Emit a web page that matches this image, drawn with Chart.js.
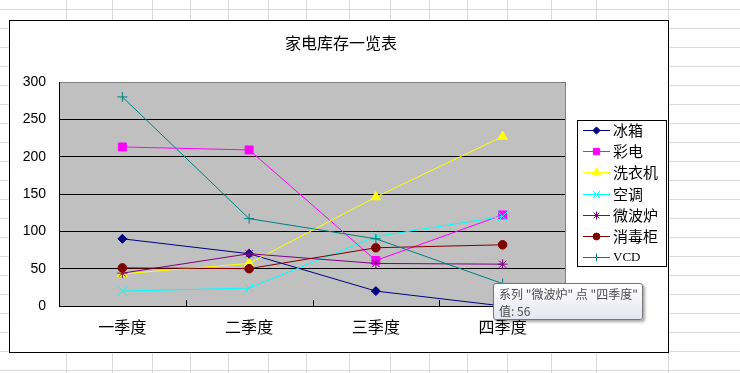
<!DOCTYPE html>
<html>
<head>
<meta charset="utf-8">
<script src="https://cdn.jsdelivr.net/npm/chart.js@4/dist/chart.umd.min.js"></script>
<style>
  html, body { margin: 0; padding: 0; background: #fff; }
  #wrap { position: relative; width: 740px; height: 373px; overflow: hidden; }
  #chart { position: absolute; left: 0; top: 0; }
  #tip {
    position: absolute; left: 493px; top: 283px; width: 150px; height: 37px;
    box-sizing: border-box; border: 1px solid #767676; border-radius: 3px;
    background: linear-gradient(#ffffff, #e4e5f0);
    box-shadow: 2px 2px 3px rgba(0, 0, 0, 0.35);
    font: 12px "Noto Sans CJK SC", sans-serif; color: #4c4c4c;
    padding: 1px 0 0 5px; line-height: 17px; white-space: nowrap;
  }
</style>
</head>
<body>
<div id="wrap">
  <canvas id="chart" width="740" height="373"></canvas>
  <div id="tip">系列 "微波炉" 点 "四季度"<br>值: 56</div>
</div>
<script>
const TITLE = "家电库存一览表";
const CATEGORIES = ["一季度", "二季度", "三季度", "四季度"];
const SERIES_NAMES = ["冰箱", "彩电", "洗衣机", "空调", "微波炉", "消毒柜", "VCD"];
const BINGXIANG = [90, 70, 20, 0];
const CAIDIAN = [213, 209, 61, 122];
const XIYIJI = [43, 57, 146, 227];
const KONGTIAO = [20, 24, 93, 120];
const WEIBOLU = [44, 70, 57, 56];
const XIAODUGUI = [51, 50, 78, 82];
const VCD = [280, 117, 90, 30];
const Y_MIN = 0;
const Y_MAX = 300;
const Y_STEP = 50;

const seriesValues = [BINGXIANG, CAIDIAN, XIYIJI, KONGTIAO, WEIBOLU, XIAODUGUI, VCD];
const looks = [
  { color: "#000080", style: "rectRot", radius: 4.5 },
  { color: "#ff00ff", style: "rect", radius: 5.6 },
  { color: "#ffff00", style: "triangle", radius: 5.5 },
  { color: "#00ffff", style: "crossRot", radius: 6.3 },
  { color: "#800080", style: "star", radius: 5 },
  { color: "#800000", style: "circle", radius: 4.3 },
  { color: "#008080", style: "cross", radius: 5 },
];

const datasets = SERIES_NAMES.map((name, i) => ({
  label: name,
  data: seriesValues[i],
  borderColor: looks[i].color,
  backgroundColor: looks[i].color,
  pointBackgroundColor: looks[i].color,
  pointBorderColor: looks[i].color,
  pointStyle: looks[i].style,
  pointRadius: looks[i].radius,
  pointBorderWidth: 1,
  borderWidth: 1,
  tension: 0,
  order: SERIES_NAMES.length - i,
}));

// sheet grid, chart frame, plot fill
const sheetPlugin = {
  id: "sheet",
  beforeDraw(chart) {
    const ctx = chart.ctx;
    const area = chart.chartArea;
    ctx.save();
    ctx.fillStyle = "#fff";
    ctx.fillRect(0, 0, chart.width, chart.height);
    ctx.strokeStyle = "#d9d9d9";
    ctx.lineWidth = 1;
    ctx.beginPath();
    for (let y = 9.5; y < chart.height; y += 19) {
      ctx.moveTo(0, y);
      ctx.lineTo(chart.width, y);
    }
    [66.5, 112.5, 152.5, 190.5, 228.5, 268.5, 306.5, 349.5, 390.5, 429.5, 467.5, 507.5, 551.5, 596.5, 668.5].forEach((x) => {
      ctx.moveTo(x, 0);
      ctx.lineTo(x, chart.height);
    });
    ctx.stroke();
    ctx.fillStyle = "#fff";
    ctx.fillRect(9.5, 20.5, 659, 332);
    ctx.strokeStyle = "#000";
    ctx.strokeRect(9.5, 20.5, 659, 332);

    ctx.fillStyle = "#000";
    ctx.font = '16px "Noto Sans CJK SC"';
    ctx.textAlign = "center";
    ctx.textBaseline = "middle";
    ctx.fillText(TITLE, 341, 43);

    ctx.fillStyle = "#c0c0c0";
    ctx.fillRect(area.left, area.top, area.right - area.left, area.bottom - area.top);
    ctx.restore();
  },
  beforeDatasetsDraw(chart) {
    const ctx = chart.ctx;
    const area = chart.chartArea;
    const xs = chart.scales.x;
    ctx.save();
    ctx.lineWidth = 1;
    ctx.strokeStyle = "#808080";
    ctx.beginPath();
    ctx.moveTo(Math.round(area.right) - 0.5, area.top);
    ctx.lineTo(Math.round(area.right) - 0.5, area.bottom);
    ctx.stroke();
    ctx.strokeStyle = "#000";
    ctx.beginPath();
    for (let i = 0; i < CATEGORIES.length - 1; i++) {
      const x = Math.round((xs.getPixelForValue(i) + xs.getPixelForValue(i + 1)) / 2) + 0.5;
      ctx.moveTo(x, area.bottom - 6);
      ctx.lineTo(x, area.bottom);
    }
    ctx.stroke();
    ctx.restore();
  },
};

const legendPlugin = {
  id: "boxLegend",
  afterDraw(chart) {
    const ctx = chart.ctx;
    ctx.save();
    ctx.fillStyle = "#fff";
    ctx.fillRect(577.5, 120.5, 89, 146);
    ctx.strokeStyle = "#000";
    ctx.lineWidth = 1;
    ctx.strokeRect(577.5, 120.5, 89, 146);
    chart.data.datasets.forEach((ds, i) => {
      const y = Math.round(130 + i * 21.2) + 0.5;
      ctx.strokeStyle = ds.borderColor;
      ctx.lineWidth = 1;
      ctx.beginPath();
      ctx.moveTo(583, y);
      ctx.lineTo(610, y);
      ctx.stroke();
      ctx.fillStyle = ds.pointBackgroundColor;
      ctx.strokeStyle = ds.pointBorderColor;
      if (Chart.helpers && Chart.helpers.drawPoint) {
        Chart.helpers.drawPoint(ctx, {
          pointStyle: ds.pointStyle,
          radius: ds.pointRadius * 0.8,
          rotation: 0,
          borderWidth: 1,
        }, 596.5, y);
      }
      ctx.fillStyle = "#000";
      ctx.textAlign = "left";
      ctx.textBaseline = "middle";
      ctx.font = ds.label === "VCD" ? '13px "Liberation Serif"' : '15px "Noto Sans CJK SC"';
      ctx.fillText(ds.label, 613, y);
    });
    ctx.restore();
  },
};

new Chart(document.getElementById("chart"), {
  type: "line",
  data: { labels: CATEGORIES, datasets: datasets },
  options: {
    responsive: false,
    animation: false,
    events: [],
    layout: { padding: { top: 82, right: 174, bottom: 0, left: 0 } },
    plugins: {
      legend: { display: false },
      title: { display: false },
      tooltip: { enabled: false },
    },
    scales: {
      x: {
        offset: true,
        afterFit(scale) { scale.height = 67; },
        grid: { display: false },
        border: { display: true, color: "#000", width: 1 },
        ticks: {
          color: "#000",
          padding: 3,
          maxRotation: 0,
          font: { family: "Noto Sans CJK SC", size: 16 },
        },
      },
      y: {
        min: Y_MIN,
        max: Y_MAX,
        afterFit(scale) { scale.width = 59; },
        grid: {
          drawTicks: false,
          color(c) { return c.tick && c.tick.value === Y_MAX ? "#808080" : "#000"; },
        },
        border: { display: true, color: "#000", width: 1 },
        ticks: {
          stepSize: Y_STEP,
          color: "#000",
          padding: 13,
          font: { family: "Liberation Sans", size: 14 },
        },
      },
    },
  },
  plugins: [sheetPlugin, legendPlugin],
});
</script>
</body>
</html>
